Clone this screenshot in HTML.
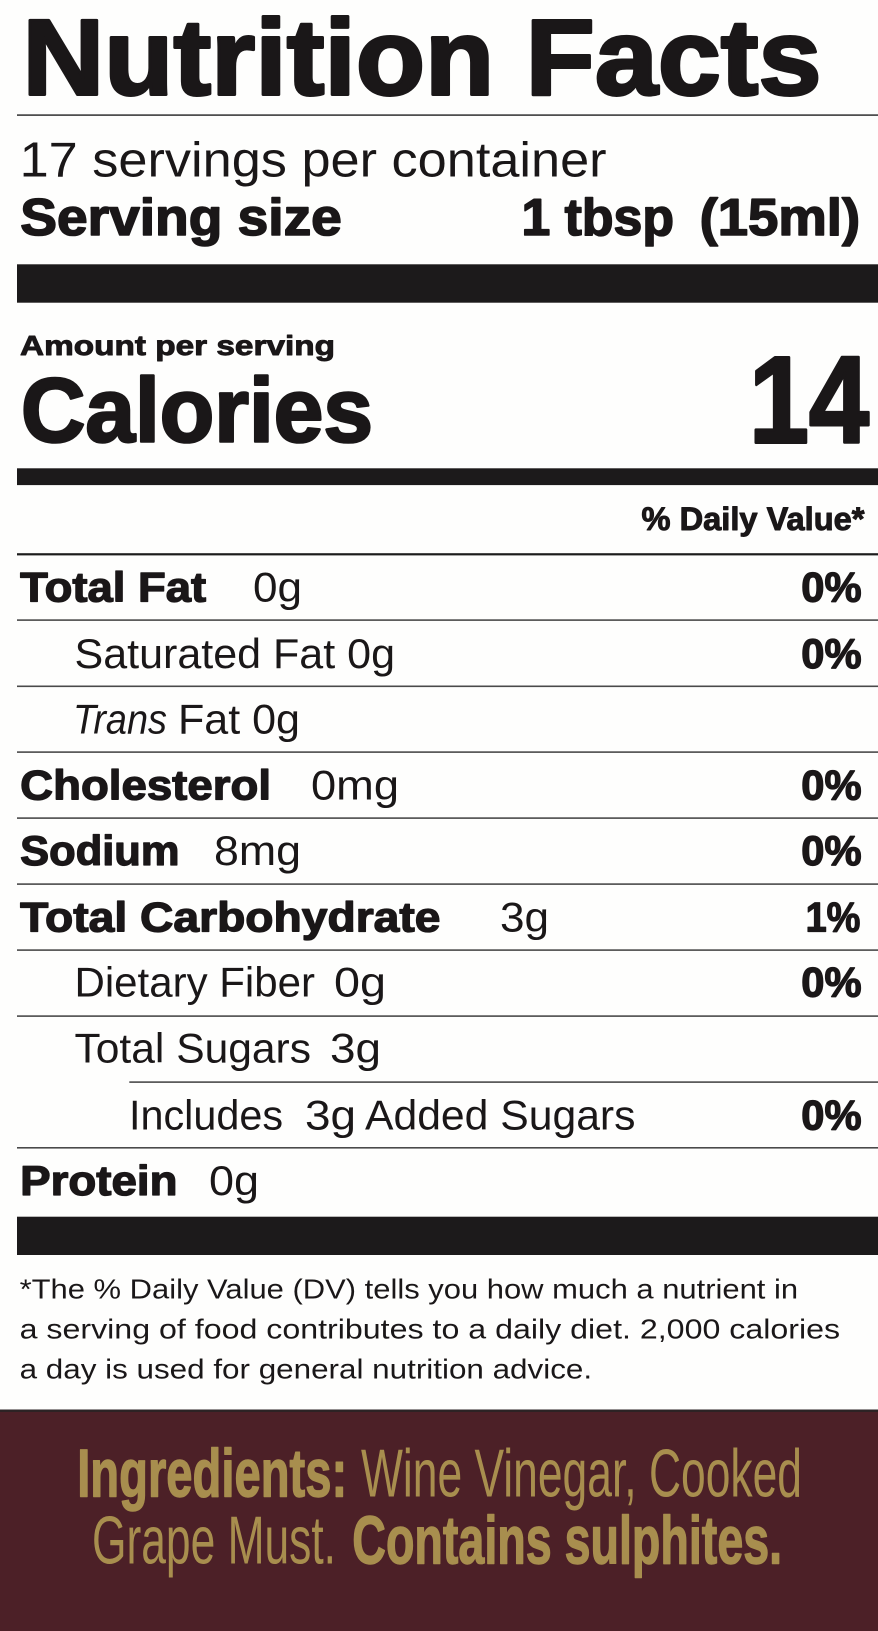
<!DOCTYPE html>
<html>
<head>
<meta charset="utf-8">
<style>
  html,body{margin:0;padding:0;background:#fefefd;}
  svg{display:block;}
  .b{font-family:"Liberation Sans",Arial,sans-serif;font-weight:700;fill:#1a1718;stroke:#1a1718;stroke-linejoin:round;}
  .r{font-family:"Liberation Sans",Arial,sans-serif;font-weight:400;fill:#1a1718;}
  .gb{font-family:"Liberation Sans",Arial,sans-serif;font-weight:700;fill:#a88e4e;stroke:#a88e4e;stroke-width:1.4;stroke-linejoin:round;}
  .gr{font-family:"Liberation Sans",Arial,sans-serif;font-weight:400;fill:#a88e4e;}
  .row{stroke-width:1.3;}
</style>
</head>
<body>
<svg width="878" height="1631" viewBox="0 0 878 1631" xmlns="http://www.w3.org/2000/svg">
  <rect x="0" y="0" width="878" height="1631" fill="#fefefd"/>

  <!-- Header -->
  <text class="b" x="22.5" y="94.3" font-size="107.5" stroke-width="3" textLength="799" lengthAdjust="spacingAndGlyphs">Nutrition Facts</text>
  <rect x="17" y="114.3" width="861" height="1.6" fill="#3c3c3c"/>

  <text class="r" x="19.6" y="176.7" font-size="49" textLength="587" lengthAdjust="spacingAndGlyphs">17 servings per container</text>
  <text class="b" x="20.3" y="235" font-size="52" stroke-width="1.6" textLength="321.5" lengthAdjust="spacingAndGlyphs">Serving size</text>
  <text class="b" x="521.5" y="235" font-size="52" stroke-width="1.6" textLength="152.5" lengthAdjust="spacingAndGlyphs">1 tbsp</text>
  <text class="b" x="699.6" y="235" font-size="52" stroke-width="1.6" textLength="160.5" lengthAdjust="spacingAndGlyphs">(15ml)</text>

  <rect x="17" y="264.3" width="861" height="38.4" fill="#1c1a1b"/>

  <text class="b" x="20" y="355" font-size="28" stroke-width="0.9" textLength="315" lengthAdjust="spacingAndGlyphs">Amount per serving</text>
  <text class="b" x="21" y="441.7" font-size="91" stroke-width="2.6" textLength="352" lengthAdjust="spacingAndGlyphs">Calories</text>
  <text class="b" x="749" y="442.7" font-size="123" stroke-width="3" textLength="120" lengthAdjust="spacingAndGlyphs">14</text>

  <rect x="17" y="468.3" width="861" height="16.8" fill="#1c1a1b"/>

  <text class="b" x="641.5" y="530" font-size="32.5" stroke-width="1" textLength="223" lengthAdjust="spacingAndGlyphs">% Daily Value*</text>
  <rect x="17" y="553.2" width="861" height="2.2" fill="#1c1c1c"/>

  <!-- Rows -->
  <text class="b row" x="20.2" y="601.7" font-size="42" textLength="186" lengthAdjust="spacingAndGlyphs">Total Fat</text>
  <text class="r" x="253" y="601.7" font-size="42" textLength="49" lengthAdjust="spacingAndGlyphs">0g</text>
  <text class="b row" x="801.3" y="601.7" font-size="42" textLength="60.3" lengthAdjust="spacingAndGlyphs">0%</text>
  <rect x="17" y="619.3" width="861" height="1.6" fill="#4a4a4a"/>

  <text class="r" x="74.5" y="668" font-size="42" textLength="320.5" lengthAdjust="spacingAndGlyphs">Saturated Fat 0g</text>
  <text class="b row" x="801.3" y="668" font-size="42" textLength="60.3" lengthAdjust="spacingAndGlyphs">0%</text>
  <rect x="17" y="685.5" width="861" height="1.6" fill="#4a4a4a"/>

  <text class="r" x="73" y="733.3" font-size="42" font-style="italic" textLength="94" lengthAdjust="spacingAndGlyphs">Trans</text>
  <text class="r" x="178" y="733.3" font-size="42" textLength="122" lengthAdjust="spacingAndGlyphs">Fat 0g</text>
  <rect x="17" y="751.3" width="861" height="1.6" fill="#4a4a4a"/>

  <text class="b row" x="20.2" y="799.3" font-size="42" textLength="250.8" lengthAdjust="spacingAndGlyphs">Cholesterol</text>
  <text class="r" x="311" y="799.3" font-size="42" textLength="88" lengthAdjust="spacingAndGlyphs">0mg</text>
  <text class="b row" x="801.3" y="799.3" font-size="42" textLength="60.3" lengthAdjust="spacingAndGlyphs">0%</text>
  <rect x="17" y="817.3" width="861" height="1.6" fill="#4a4a4a"/>

  <text class="b row" x="20.2" y="865" font-size="42" textLength="159.3" lengthAdjust="spacingAndGlyphs">Sodium</text>
  <text class="r" x="214" y="865" font-size="42" textLength="87" lengthAdjust="spacingAndGlyphs">8mg</text>
  <text class="b row" x="801.3" y="865" font-size="42" textLength="60.3" lengthAdjust="spacingAndGlyphs">0%</text>
  <rect x="17" y="883.3" width="861" height="1.6" fill="#4a4a4a"/>

  <text class="b row" x="20.2" y="931.7" font-size="42" textLength="420.3" lengthAdjust="spacingAndGlyphs">Total Carbohydrate</text>
  <text class="r" x="500" y="931.7" font-size="42" textLength="49" lengthAdjust="spacingAndGlyphs">3g</text>
  <text class="b row" x="805.6" y="931.7" font-size="42" textLength="54.8" lengthAdjust="spacingAndGlyphs">1%</text>
  <rect x="17" y="949.3" width="861" height="1.6" fill="#4a4a4a"/>

  <text class="r" x="74.5" y="996.7" font-size="42" textLength="240.5" lengthAdjust="spacingAndGlyphs">Dietary Fiber</text>
  <text class="r" x="334" y="996.7" font-size="42" textLength="52" lengthAdjust="spacingAndGlyphs">0g</text>
  <text class="b row" x="801.3" y="996.7" font-size="42" textLength="60.3" lengthAdjust="spacingAndGlyphs">0%</text>
  <rect x="17" y="1015.3" width="861" height="1.6" fill="#4a4a4a"/>

  <text class="r" x="74.5" y="1062.7" font-size="42" textLength="236.5" lengthAdjust="spacingAndGlyphs">Total Sugars</text>
  <text class="r" x="330" y="1062.7" font-size="42" textLength="51" lengthAdjust="spacingAndGlyphs">3g</text>
  <rect x="129.3" y="1081.3" width="748.7" height="1.6" fill="#4a4a4a"/>

  <text class="r" x="129" y="1129.3" font-size="42" textLength="154" lengthAdjust="spacingAndGlyphs">Includes</text>
  <text class="r" x="305" y="1129.3" font-size="42" textLength="51" lengthAdjust="spacingAndGlyphs">3g</text>
  <text class="r" x="365" y="1129.3" font-size="42" textLength="270.5" lengthAdjust="spacingAndGlyphs">Added Sugars</text>
  <text class="b row" x="801.3" y="1129.3" font-size="42" textLength="60.3" lengthAdjust="spacingAndGlyphs">0%</text>
  <rect x="17" y="1147" width="861" height="1.6" fill="#4a4a4a"/>

  <text class="b row" x="20.2" y="1195" font-size="42" textLength="157.3" lengthAdjust="spacingAndGlyphs">Protein</text>
  <text class="r" x="209" y="1195" font-size="42" textLength="50" lengthAdjust="spacingAndGlyphs">0g</text>

  <rect x="17" y="1216.7" width="861" height="38.3" fill="#1c1a1b"/>

  <!-- Footnote -->
  <text class="r" x="19.6" y="1298.3" font-size="28" textLength="778.5" lengthAdjust="spacingAndGlyphs">*The % Daily Value (DV) tells you how much a nutrient in</text>
  <text class="r" x="19.6" y="1338.3" font-size="28" textLength="820.5" lengthAdjust="spacingAndGlyphs">a serving of food contributes to a daily diet. 2,000 calories</text>
  <text class="r" x="19.6" y="1378.3" font-size="28" textLength="572.5" lengthAdjust="spacingAndGlyphs">a day is used for general nutrition advice.</text>

  <!-- Ingredients panel -->
  <rect x="0" y="1409.5" width="878" height="221.5" fill="#4c2027"/>
  <rect x="0" y="1409.5" width="878" height="2.4" fill="#2b2325"/>

  <text class="gb" x="77.2" y="1496.7" font-size="67.5" textLength="270" lengthAdjust="spacingAndGlyphs">Ingredients:</text>
  <text class="gr" x="361" y="1496.7" font-size="67.5" textLength="441" lengthAdjust="spacingAndGlyphs">Wine Vinegar, Cooked</text>
  <text class="gr" x="92" y="1563.3" font-size="67.5" textLength="244" lengthAdjust="spacingAndGlyphs">Grape Must.</text>
  <text class="gb" x="352.3" y="1563.3" font-size="67.5" textLength="429.8" lengthAdjust="spacingAndGlyphs">Contains sulphites.</text>
</svg>
</body>
</html>
